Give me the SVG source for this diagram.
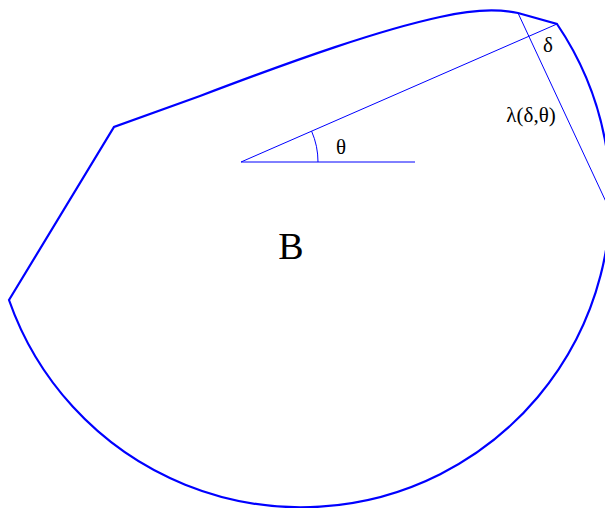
<svg xmlns="http://www.w3.org/2000/svg" width="605" height="508" viewBox="0 0 605 508">
<style>
.thick{fill:none;stroke:#0000ff;stroke-width:2.2;stroke-linejoin:miter}
.thin{fill:none;stroke:#0000ff;stroke-width:1}
text{font-family:"Liberation Serif","Times New Roman",serif;fill:#000}
</style>
<rect width="605" height="508" fill="#fff"/>
<g id="body-B">
<path class="thick" d="M9,300 L114,127 L200,96 C300,58 380,30 440,17 C470,10 495,8 518,13 L557,24 A309.4,309.4 0 1 1 9,300 Z"/>
<text x="291" y="259" font-size="38" text-anchor="middle">B</text>
</g>
<g id="connectors">
<line class="thin" x1="241" y1="162" x2="557" y2="24"/>
<line class="thin" x1="241" y1="162" x2="415" y2="162"/>
<path class="thin" d="M311.6,131.2 A77,77 0 0 1 318,162"/>
<line class="thin" x1="518" y1="13" x2="621" y2="234"/>
</g>
<g id="label-theta"><text x="341" y="154" font-size="21" text-anchor="middle">θ</text></g>
<g id="label-delta"><text x="548" y="52" font-size="21" text-anchor="middle">δ</text></g>
<g id="label-lambda"><text x="531" y="122" font-size="21" text-anchor="middle">λ(δ,θ)</text></g>
</svg>
